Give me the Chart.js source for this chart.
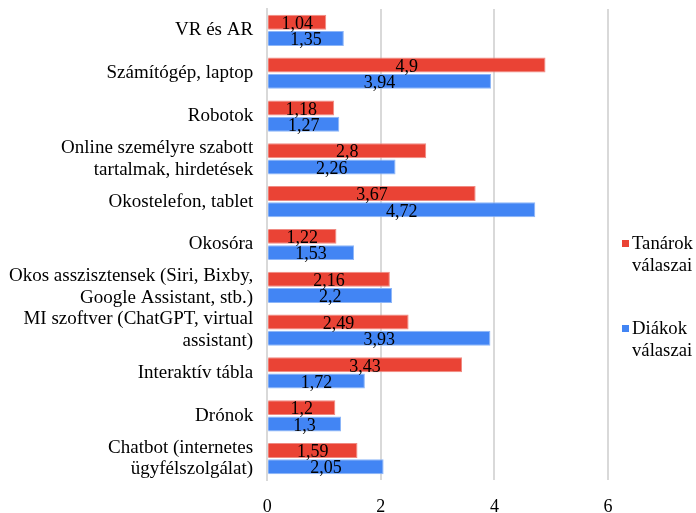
<!DOCTYPE html>
<html>
<head>
<meta charset="utf-8">
<script src="https://cdn.jsdelivr.net/npm/chart.js@4"></script>
<style>
  body { margin: 0; background: #fff; }
  #wrap { position: relative; width: 696px; height: 513px; }
  #legend { position: absolute; left: 621px; top: 0; font-family: "Liberation Serif", serif; font-size: 18.7px; color: #000; line-height: 22px; }
  .item { position: absolute; left: 0; width: 80px; }
  .box { position: absolute; left: 1px; top: 7.5px; width: 7px; height: 7px; }
  .txt { padding-left: 11px; }
</style>
</head>
<body>
<div id="wrap">
  <canvas id="myChart"></canvas>
  <div id="legend">
    <div class="item" style="top:232px"><span class="box" style="background:#EA4335"></span><div class="txt">Tanárok<br>válaszai</div></div>
    <div class="item" style="top:317px"><span class="box" style="background:#4285F4"></span><div class="txt">Diákok<br>válaszai</div></div>
  </div>
</div>
<script>
// categories (top to bottom)
const categories = [
  ["VR és AR"],
  ["Számítógép, laptop"],
  ["Robotok"],
  ["Online személyre szabott", "tartalmak, hirdetések"],
  ["Okostelefon, tablet"],
  ["Okosóra"],
  ["Okos asszisztensek (Siri, Bixby,", "Google Assistant, stb.)"],
  ["MI szoftver (ChatGPT, virtual", "assistant)"],
  ["Interaktív tábla"],
  ["Drónok"],
  ["Chatbot (internetes", "ügyfélszolgálat)"]
];
const tanarok = [1.04, 4.9, 1.18, 2.8, 3.67, 1.22, 2.16, 2.49, 3.43, 1.2, 1.59];
const diakok = [1.35, 3.94, 1.27, 2.26, 4.72, 1.53, 2.2, 3.93, 1.72, 1.3, 2.05];
const xTicks = [0, 2, 4, 6];

const serif = '"Liberation Serif", serif';

const valueLabels = {
  id: 'valueLabels',
  afterDatasetsDraw(chart) {
    const ctx = chart.ctx;
    ctx.save();
    ctx.font = '18px ' + serif;
    ctx.fillStyle = '#000';
    ctx.textAlign = 'center';
    ctx.textBaseline = 'middle';
    chart.data.datasets.forEach((ds, i) => {
      chart.getDatasetMeta(i).data.forEach((bar, j) => {
        const txt = String(ds.data[j]).replace('.', ',');
        ctx.fillText(txt, (bar.base + bar.x) / 2, bar.y + 2);
      });
    });
    ctx.restore();
  }
};

var ctx = document.getElementById('myChart').getContext('2d');
var myChart = new Chart(ctx, {
  type: 'bar',
  data: {
    labels: categories,
    datasets: [{
      label: "Tanárok válaszai",
      data: tanarok,
      backgroundColor: "#EA4335",
      borderColor: "#F08B83",
      borderWidth: 1
    }, {
      label: "Diákok válaszai",
      data: diakok,
      backgroundColor: "#4285F4",
      borderColor: "#8DB6F8",
      borderWidth: 1
    }]
  },
  options: {
    indexAxis: 'y',
    responsive: true,
    maintainAspectRatio: false,
    animation: false,
    layout: { padding: { top: 9, right: 88, left: -5, bottom: -21 } },
    categoryPercentage: 0.76,
    barPercentage: 0.92,
    plugins: {
      legend: { display: false },
      tooltip: { enabled: false }
    },
    scales: {
      x: {
        min: 0,
        max: 6,
        afterBuildTicks: (axis) => { axis.ticks = xTicks.map(v => ({ value: v })); },
        grid: { color: '#d9d9d9', lineWidth: 2, drawTicks: false },
        border: { display: false },
        ticks: { color: '#000', font: { family: serif, size: 18, lineHeight: 1 }, padding: 18 }
      },
      y: {
        afterFit: (axis) => { axis.paddingTop = 0; axis.paddingBottom = 0; },
        grid: { display: false, drawTicks: false },
        border: { display: true, color: '#d9d9d9', width: 2 },
        ticks: { autoSkip: false, color: '#000', font: { family: serif, size: 19, lineHeight: 1.14 }, padding: 14 }
      }
    }
  },
  plugins: [valueLabels]
});
</script>
</body>
</html>
